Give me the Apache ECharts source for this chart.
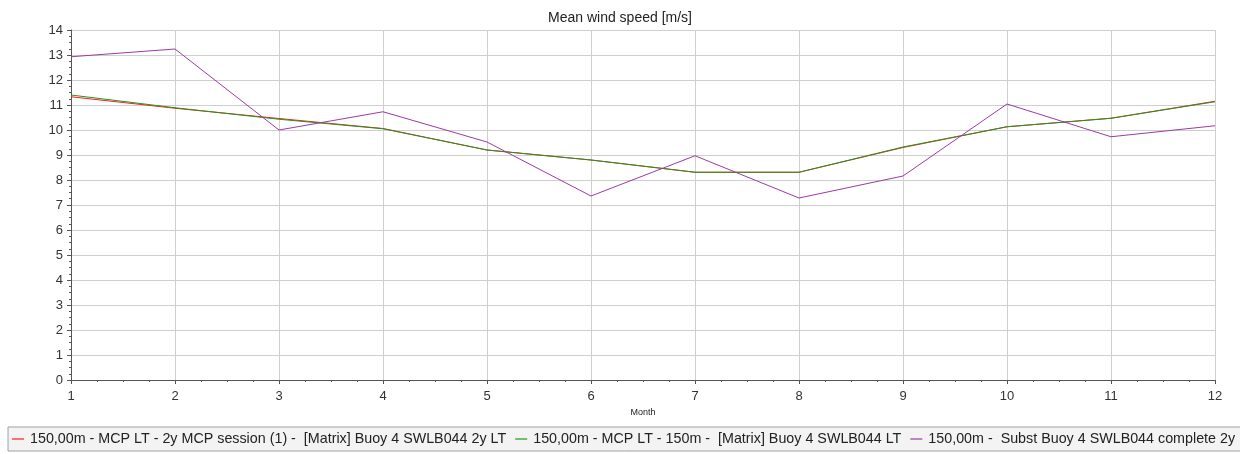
<!DOCTYPE html>
<html>
<head>
<meta charset="utf-8">
<script src="https://cdn.jsdelivr.net/npm/echarts@6/dist/echarts.min.js"></script>
<style>
  html, body { margin: 0; padding: 0; background: #ffffff; }
  #chart { width: 1240px; height: 454px; }
</style>
</head>
<body>
<div id="chart"></div>
<script>
// Months on the x axis
const months = [1, 2, 3, 4, 5, 6, 7, 8, 9, 10, 11, 12];

// Mean wind speed per month [m/s]
const mcpSession2y = [11.33, 10.87, 10.46, 10.06, 9.20, 8.80, 8.31, 8.31, 9.30, 10.13, 10.47, 11.15];
const mcp150m      = [11.40, 10.89, 10.43, 10.05, 9.20, 8.80, 8.31, 8.31, 9.32, 10.13, 10.47, 11.13];
const substBuoy    = [12.93, 13.24, 10.00, 10.73, 9.52, 7.36, 8.97, 7.28, 8.16, 11.04, 9.73, 10.17];

const seriesNames = [
  '150,00m - MCP LT - 2y MCP session (1) -  [Matrix] Buoy 4 SWLB044 2y LT',
  '150,00m - MCP LT - 150m -  [Matrix] Buoy 4 SWLB044 LT',
  '150,00m -  Subst Buoy 4 SWLB044 complete 2y'
];
const seriesColors = ['#ff1a1a', '#1f961f', '#9c3aa6'];
const seriesValues = [mcpSession2y, mcp150m, substBuoy];

const chart = echarts.init(document.getElementById('chart'), null, { renderer: 'canvas' });

const font = 'Arial, "Liberation Sans", sans-serif';

chart.setOption({
  animation: false,
  backgroundColor: '#ffffff',
  title: {
    text: 'Mean wind speed [m/s]',
    left: 'center',
    top: 6,
    textStyle: { fontFamily: font, fontSize: 14, fontWeight: 'normal', color: '#222' }
  },
  grid: { left: 71, right: 25, top: 30, bottom: 74, containLabel: false },
  legend: {
    left: 8,
    top: 427,
    width: 2400,
    orient: 'horizontal',
    padding: [5, 40, 5, 4],
    itemGap: 9,
    itemWidth: 12,
    itemHeight: 2,
    backgroundColor: '#f3f3f3',
    borderColor: '#a0a0a0',
    borderWidth: 1,
    icon: 'rect',
    textStyle: { fontFamily: font, fontSize: 14.3, color: '#222', padding: [0, 0, 0, 1] },
    data: seriesNames.map((n, i) => ({ name: n, itemStyle: { color: seriesColors[i], opacity: 0.6 } }))
  },
  xAxis: {
    type: 'value',
    min: 1,
    max: 12,
    interval: 1,
    name: 'Month',
    nameLocation: 'middle',
    nameGap: 25,
    nameTextStyle: { fontFamily: font, fontSize: 9, color: '#222' },
    axisLine: { show: true, lineStyle: { color: '#555', width: 1 } },
    axisTick: { show: true, length: 4, lineStyle: { color: '#555' } },
    minorTick: { show: true, splitNumber: 4, length: 2, lineStyle: { color: '#555' } },
    axisLabel: { fontFamily: font, fontSize: 13, color: '#333', margin: 10 },
    splitLine: { show: true, lineStyle: { color: '#cfcfcf', width: 1 } }
  },
  yAxis: {
    type: 'value',
    min: 0,
    max: 14,
    interval: 1,
    axisLine: { show: true, lineStyle: { color: '#555', width: 1 } },
    axisTick: { show: true, length: 4, lineStyle: { color: '#555' } },
    minorTick: { show: true, splitNumber: 4, length: 2, lineStyle: { color: '#555' } },
    axisLabel: { fontFamily: font, fontSize: 13, color: '#333', margin: 8 },
    splitLine: { show: true, lineStyle: { color: '#cfcfcf', width: 1 } }
  },
  series: seriesValues.map((vals, i) => ({
    name: seriesNames[i],
    type: 'line',
    data: months.map((m, k) => [m, vals[k]]),
    showSymbol: false,
    symbol: 'none',
    lineStyle: { color: seriesColors[i], width: 1 },
    itemStyle: { color: seriesColors[i] },
    z: 2 + i
  }))
});
</script>
</body>
</html>
